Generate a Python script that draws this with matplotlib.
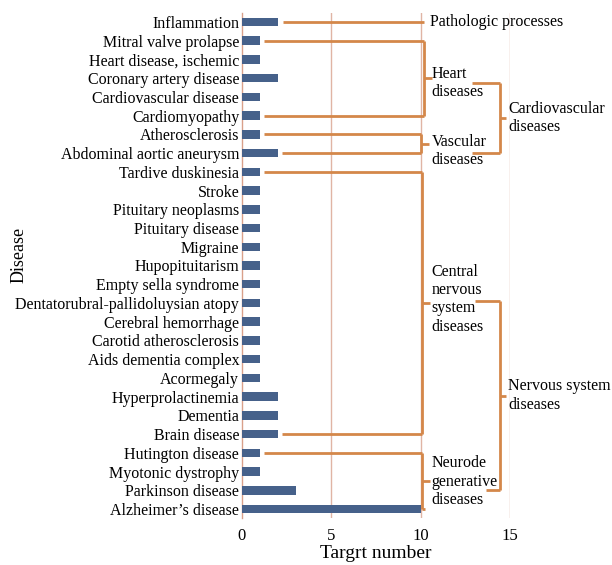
import matplotlib
matplotlib.use("Agg")
import matplotlib.pyplot as plt

plt.rcParams['font.family'] = ['Liberation Serif', 'DejaVu Serif']

diseases = [
    "Inflammation", "Mitral valve prolapse", "Heart disease, ischemic",
    "Coronary artery disease", "Cardiovascular disease", "Cardiomyopathy",
    "Atherosclerosis", "Abdominal aortic aneurysm", "Tardive duskinesia",
    "Stroke", "Pituitary neoplasms", "Pituitary disease", "Migraine",
    "Hupopituitarism", "Empty sella syndrome",
    "Dentatorubral-pallidoluysian atopy", "Cerebral hemorrhage",
    "Carotid atherosclerosis", "Aids dementia complex", "Acormegaly",
    "Hyperprolactinemia", "Dementia", "Brain disease", "Hutington disease",
    "Myotonic dystrophy", "Parkinson disease", "Alzheimer\u2019s disease",
]
target_number = [2, 1, 1, 2, 1, 1, 1, 2, 1, 1, 1, 1, 1, 1, 1, 1, 1, 1, 1, 1,
                 2, 2, 2, 1, 1, 3, 10]
xticks = [0, 5, 10, 15]

# groups: (first row, last row, label, label row)
small_groups = [
    (1, 5, "Heart\ndiseases", 3.25),
    (6, 7, "Vascular\ndiseases", 6.9),
    (8, 22, "Central\nnervous\nsystem\ndiseases", 14.8),
    (23, 26, "Neurode\ngenerative\ndiseases", 24.55),
]
big_groups = [
    (3.25, 7.0, "Cardiovascular\ndiseases"),
    (14.9, 25.0, "Nervous system\ndiseases"),
]

bar_color = "#46618a"
br_color = "#d4874a"
grid_color = "#e0b4a4"
fs = 11.5

fig = plt.figure(figsize=(6.12, 5.65), dpi=100)
ax = fig.add_axes([0.3954, 0.0825, 0.4379, 0.8952])

rows = list(range(len(diseases)))
ax.barh(rows, target_number, height=0.45, color=bar_color, zorder=3)
ax.set_ylim(len(diseases) - 0.5, -0.5)
ax.set_xlim(0, 15)
ax.set_yticks(rows)
ax.set_yticklabels(diseases, fontsize=fs)
ax.set_xticks(xticks)
ax.set_xticklabels([str(t) for t in xticks], fontsize=12)
ax.tick_params(length=0, pad=2)
ax.tick_params(axis='x', pad=7)
for s in ["top", "right", "bottom"]:
    ax.spines[s].set_visible(False)
ax.spines["left"].set_color("#d9a08a")
ax.spines["left"].set_linewidth(1)
for t in xticks[1:]:
    ax.axvline(t, color=grid_color, lw=1, zorder=1)
ax.set_xlabel("Targrt number", fontsize=14, labelpad=1)
ax.set_ylabel("Disease", fontsize=13)
ax.yaxis.set_label_coords(-0.80, 0.52)

kw = dict(color=br_color, lw=2, clip_on=False, zorder=4, solid_capstyle='butt')

# pathologic processes line
ax.plot([target_number[0] + 0.3, 10.2], [0, 0], **kw)
ax.text(10.5, 0, "Pathologic processes", fontsize=fs, va='center', ha='left')

vx = {1: 10.2, 6: 10.0, 8: 10.1, 23: 10.1}
for a, b, label, ly in small_groups:
    x = vx[a]
    ax.plot([target_number[a] + 0.25, x], [a, a], **kw)
    ax.plot([target_number[b] + 0.25, x], [b, b], **kw)
    ax.plot([x, x], [a, b], **kw)
    mid = (a + b) / 2
    ax.plot([x, x + 0.45], [mid, mid], **kw)
    ax.text(10.6, ly, label, fontsize=fs, va='center', ha='left')

big_x = [(12.9, 12.9), (13.05, 13.65)]
for (a, b, label), (xa, xb) in zip(big_groups, big_x):
    ax.plot([xa, 14.42], [a, a], **kw)
    ax.plot([xb, 14.42], [b, b], **kw)
    ax.plot([14.42, 14.42], [a, b], **kw)
    mid = (a + b) / 2
    ax.plot([14.42, 14.75], [mid, mid], **kw)
    ax.text(14.9, mid, label, fontsize=fs, va='center', ha='left')

fig.savefig("out.png", dpi=100)
